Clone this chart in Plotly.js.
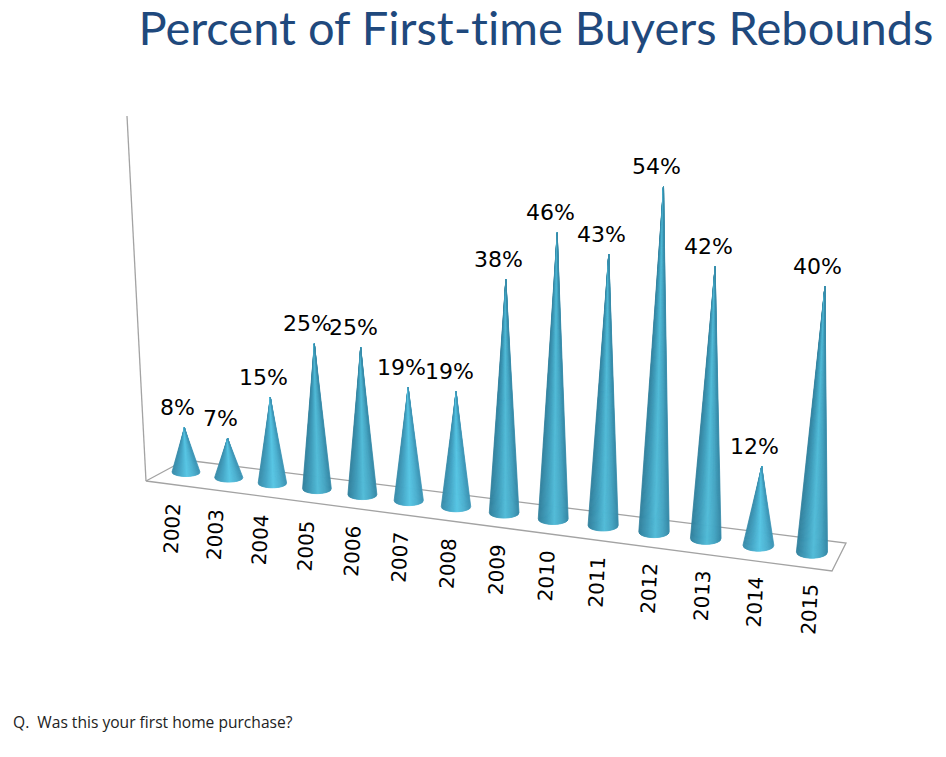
<!DOCTYPE html>
<html>
<head>
<meta charset="utf-8">
<script src="https://cdn.plot.ly/plotly-3.0.1.min.js"></script>
<style>html,body{margin:0;padding:0;background:#fff}#chart{width:946px;height:757px}
#chart text{font-variant-ligatures:none !important;font-feature-settings:"liga" 0 !important}</style>
</head>
<body>
<div id="chart"></div>
<script>
const categories = ["2002","2003","2004","2005","2006","2007","2008","2009","2010","2011","2012","2013","2014","2015"];
const values = [8,7,15,25,25,19,19,38,46,43,54,42,12,40];
const titleText = "Percent of First-time Buyers Rebounds";
const noteText = "Q.&nbsp;&nbsp;Was this your first home purchase?";

// Oblique view of the 3-D plot: (index, value) -> scene coordinates
function baseX(i){ return 186 + 42.3*i + 0.45*i*i; }
function baseY(i){ return 472 + 0.128*(baseX(i)-186); }
function unitHeight(i){ return 5.54 + 0.085*i; }
function project(i, v){
  const h = v*unitHeight(i);
  return [baseX(i) + 0.000135*h*(baseX(i)-450), baseY(i) - h];
}
function halfWidth(i){ return 14 + 0.12*i; }
function halfDepth(i){ return 4.5 + 0.12*i; }

const shadeStops = [[0,[50,128,156]],[0.3,[64,158,188]],[0.55,[82,188,216]],[0.8,[70,165,195]],[1,[54,138,168]]];
function shade(t, lift){
  for(let s=1;s<shadeStops.length;s++){
    if(t<=shadeStops[s][0]+1e-9){
      const a=shadeStops[s-1], b=shadeStops[s], f=(t-a[0])/(b[0]-a[0]);
      const c=a[1].map((q,n)=>Math.round(q+(b[1][n]-q)*f+lift[n]));
      return `rgb(${c[0]},${c[1]},${c[2]})`;
    }
  }
  return "rgb(54,138,168)";
}

const traces = [];
// floor and wall edges
traces.push({type:"scatter",mode:"lines",hoverinfo:"skip",showlegend:false,
  x:[127,146,null,185,146,832,846,185],
  y:[116,481,null,460,481,571,543,460],
  line:{color:"#a3a3a3",width:1.3}});

// cones: one trace per shading band, short cones a little brighter
const bands = 30;
[{test:v=>v<20,lift:[6,10,12]},{test:v=>v>=20,lift:[0,0,0]}].forEach(group=>{
  for(let k=0;k<bands;k++){
    const xs=[], ys=[];
    categories.forEach((c,i)=>{
      if(!group.test(values[i])) return;
      const apex = project(i, values[i]);
      const cx=baseX(i), cy=baseY(i), w=halfWidth(i), d=halfDepth(i);
      const u0=-1+2*k/bands, u1=-1+2*(k+1)/bands;
      xs.push(apex[0], cx+w*u0, cx+w*u1, apex[0], null);
      ys.push(apex[1], cy+d*Math.sqrt(Math.max(0,1-u0*u0)), cy+d*Math.sqrt(Math.max(0,1-u1*u1)), apex[1], null);
    });
    const col=shade((k+0.5)/bands, group.lift);
    traces.push({type:"scatter",mode:"lines",fill:"toself",fillcolor:col,x:xs,y:ys,
      line:{color:col,width:0.8},hoverinfo:"skip",showlegend:false});
  }
});

const annotations = [];
categories.forEach((c,i)=>{
  const apex = project(i, values[i]);
  annotations.push({x:apex[0],y:apex[1],xref:"x",yref:"y",text:values[i]+"%",showarrow:false,
    xshift:-7,yshift:20,xanchor:"center",yanchor:"middle",
    font:{family:"DejaVu Sans",size:22,color:"#000"}});
  annotations.push({x:baseX(i)-14+0.9*i,y:baseY(i)+57,xref:"x",yref:"y",text:c,showarrow:false,
    textangle:-87,xanchor:"center",yanchor:"middle",
    font:{family:"DejaVu Sans",size:20,color:"#000"}});
});
annotations.push({x:136,y:27,xref:"x",yref:"y",text:titleText,showarrow:false,xanchor:"left",yanchor:"middle",
  font:{family:"Lato",size:47,color:"#1f497d"}});
annotations.push({x:11,y:722,xref:"x",yref:"y",text:noteText,showarrow:false,xanchor:"left",yanchor:"middle",
  font:{family:"Open Sans",size:15.6,color:"#222"}});

Plotly.newPlot("chart",traces,{
  width:946,height:757,margin:{l:0,r:0,t:0,b:0},
  paper_bgcolor:"#fff",plot_bgcolor:"#fff",showlegend:false,
  xaxis:{range:[0,946],visible:false,fixedrange:true},
  yaxis:{range:[757,0],visible:false,fixedrange:true},
  annotations
},{displayModeBar:false,staticPlot:true});
</script>
</body>
</html>
